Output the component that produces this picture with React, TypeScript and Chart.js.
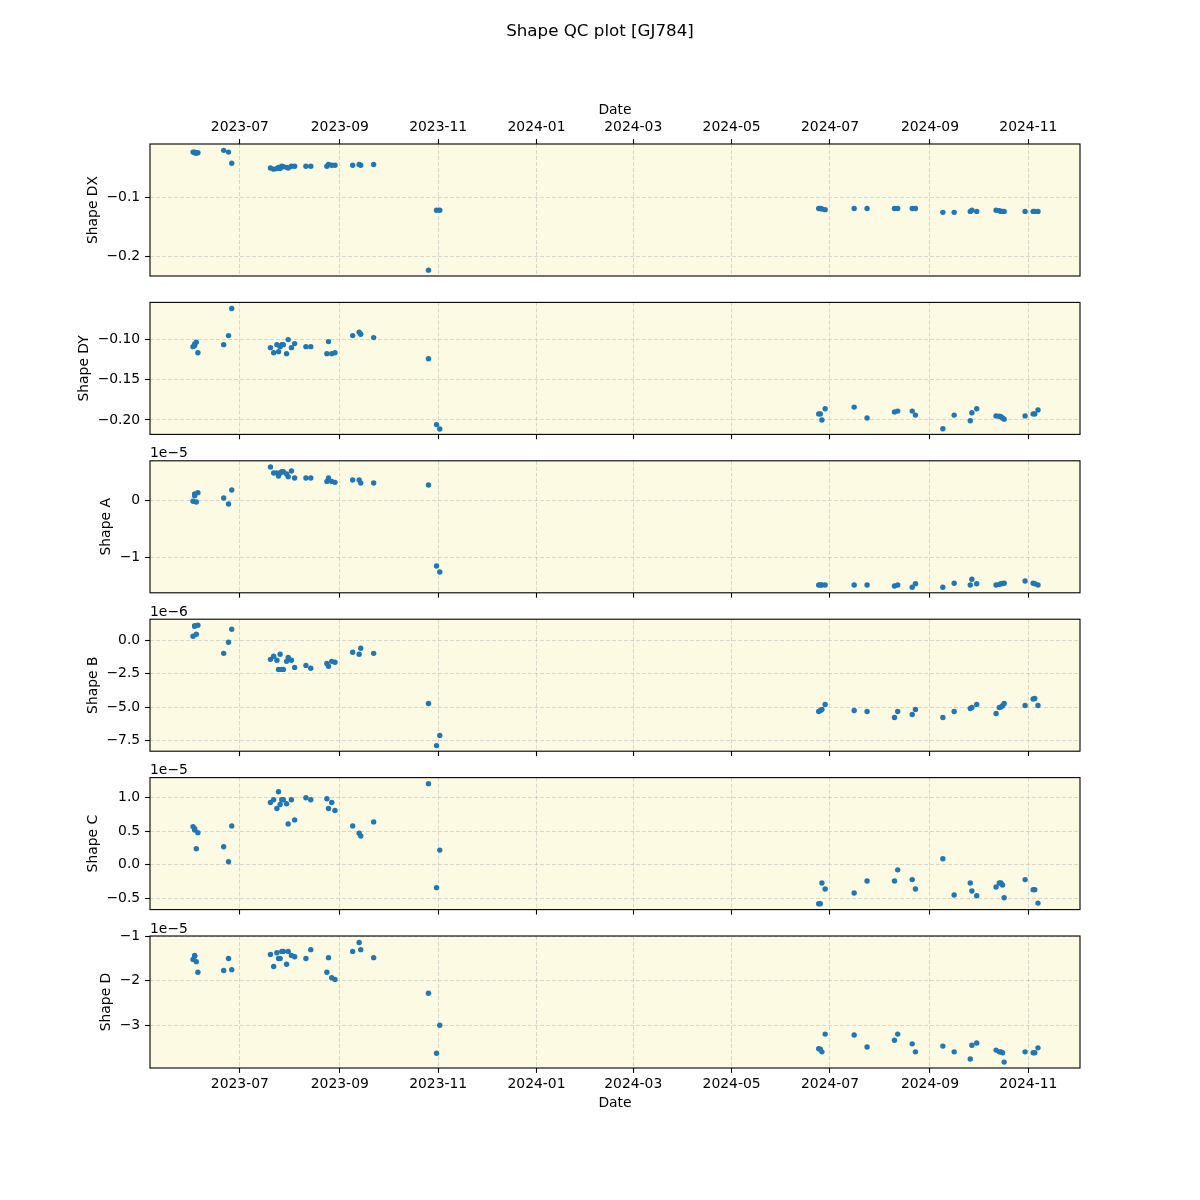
import React, { useEffect, useRef } from 'react';
import { Chart, registerables } from 'chart.js';

Chart.register(...registerables);

// ---------------- data ----------------
const obsDates = [
  '2023-06-02', '2023-06-03', '2023-06-03', '2023-06-04', '2023-06-05',
  '2023-06-21', '2023-06-24', '2023-06-26',
  '2023-07-20', '2023-07-22', '2023-07-24', '2023-07-25', '2023-07-26', '2023-07-27', '2023-07-28', '2023-07-30', '2023-07-31', '2023-08-02', '2023-08-04',
  '2023-08-11', '2023-08-14',
  '2023-08-24', '2023-08-25', '2023-08-27', '2023-08-29',
  '2023-09-09', '2023-09-13', '2023-09-14', '2023-09-22',
  '2023-10-26', '2023-10-31', '2023-11-02',
  '2024-06-24', '2024-06-25', '2024-06-26', '2024-06-28',
  '2024-07-16', '2024-07-24',
  '2024-08-10', '2024-08-12',
  '2024-08-21', '2024-08-23',
  '2024-09-09', '2024-09-16', '2024-09-26', '2024-09-27', '2024-09-30',
  '2024-10-12', '2024-10-14', '2024-10-15', '2024-10-16', '2024-10-17',
  '2024-10-30', '2024-11-04', '2024-11-05', '2024-11-07',
];

const shapeDX = [
  -0.023, -0.023, -0.024, -0.025, -0.024,
  -0.020, -0.023, -0.042,
  -0.050, -0.052, -0.051, -0.049, -0.051, -0.047, -0.048, -0.049, -0.050, -0.047, -0.047,
  -0.047, -0.047,
  -0.047, -0.044, -0.0455, -0.0455,
  -0.0455, -0.044, -0.0455, -0.044,
  -0.224, -0.122, -0.122,
  -0.119, -0.119, -0.120, -0.121,
  -0.119, -0.119,
  -0.119, -0.119,
  -0.119, -0.119,
  -0.1256, -0.1256, -0.124, -0.122, -0.124,
  -0.122, -0.123, -0.124, -0.124, -0.124,
  -0.124, -0.124, -0.124, -0.124,
];

const shapeDY = [
  -0.1088, -0.1075, -0.1054, -0.1033, -0.1163,
  -0.1063, -0.095, -0.0613,
  -0.110, -0.1163, -0.1063, -0.115, -0.1088, -0.1063, -0.1063, -0.1175, -0.100, -0.110, -0.105,
  -0.1088, -0.1088,
  -0.1175, -0.1025, -0.1175, -0.1163,
  -0.095, -0.0908, -0.0933, -0.0975,
  -0.1238, -0.2058, -0.2113,
  -0.1925, -0.1925, -0.200, -0.186,
  -0.184, -0.1975,
  -0.190, -0.189,
  -0.189, -0.194,
  -0.211, -0.194, -0.201, -0.191, -0.186,
  -0.195, -0.1955, -0.196, -0.1975, -0.199,
  -0.195, -0.1925, -0.1925, -0.1875,
];

// Shape A in units of 1e-5
const shapeA = [
  -0.023, 0.076, 0.105, -0.035, 0.129,
  0.035, -0.07, 0.175,
  0.579, 0.474, 0.474, 0.421, 0.474, 0.497, 0.497, 0.456, 0.409, 0.509, 0.386,
  0.386, 0.386,
  0.327, 0.386, 0.327, 0.31,
  0.351, 0.351, 0.298, 0.298,
  0.263, -1.158, -1.263,
  -1.49, -1.49, -1.49, -1.49,
  -1.49, -1.49,
  -1.51, -1.49,
  -1.53, -1.47,
  -1.53, -1.46, -1.49, -1.39, -1.47,
  -1.49, -1.48, -1.47, -1.465, -1.46,
  -1.42, -1.46, -1.47, -1.49,
];

// Shape B in units of 1e-6
const shapeB = [
  0.30, 1.05, 1.08, 0.45, 1.12,
  -0.98, -0.15, 0.82,
  -1.43, -1.2, -1.5, -2.18, -1.05, -2.18, -2.18, -1.58, -1.28, -1.5, -2.03,
  -1.88, -2.1,
  -1.73, -1.95, -1.58, -1.65,
  -0.9, -1.05, -0.6, -0.98,
  -4.73, -7.88, -7.13,
  -5.33, -5.25, -5.18, -4.8,
  -5.25, -5.33,
  -5.78, -5.33,
  -5.55, -5.18,
  -5.78, -5.33, -5.1, -5.03, -4.8,
  -5.48, -5.03, -5.0, -4.9, -4.73,
  -4.88, -4.4, -4.35, -4.88,
];

// Shape C in units of 1e-5
const shapeC = [
  0.57, 0.54, 0.52, 0.24, 0.48,
  0.27, 0.045, 0.58,
  0.93, 0.97, 0.84, 1.09, 0.90, 0.97, 0.97, 0.91, 0.61, 0.97, 0.67,
  1.0, 0.97,
  0.985, 0.84, 0.93, 0.81,
  0.58, 0.47, 0.43, 0.64,
  1.21, -0.34, 0.22,
  -0.58, -0.58, -0.27, -0.36,
  -0.42, -0.24,
  -0.24, -0.075,
  -0.22, -0.36,
  0.09, -0.45, -0.27, -0.39, -0.46,
  -0.33, -0.27, -0.27, -0.30, -0.49,
  -0.22, -0.37, -0.37, -0.57,
];

// Shape D in units of 1e-5
const shapeD = [
  -1.52, -1.43, -1.45, -1.57, -1.81,
  -1.77, -1.50, -1.75,
  -1.41, -1.68, -1.37, -1.50, -1.50, -1.34, -1.34, -1.63, -1.34, -1.43, -1.46,
  -1.50, -1.30,
  -1.81, -1.48, -1.93, -1.97,
  -1.34, -1.14, -1.30, -1.48,
  -2.28, -3.63, -3.0,
  -3.53, -3.54, -3.6, -3.2,
  -3.22, -3.49,
  -3.34, -3.2,
  -3.42, -3.6,
  -3.47, -3.6, -3.76, -3.45, -3.4,
  -3.56, -3.6, -3.6, -3.62, -3.83,
  -3.6, -3.62, -3.62, -3.51,
];

const xTickLabels = ['2023-07', '2023-09', '2023-11', '2024-01', '2024-03', '2024-05', '2024-07', '2024-09', '2024-11'];
const dxTicks = [-0.2, -0.1];
const dyTicks = [-0.2, -0.15, -0.1];
const aTicks = [-1, 0];
const bTicks = [-7.5, -5, -2.5, 0];
const cTicks = [-0.5, 0, 0.5, 1.0];
const dTicks = [-3, -2, -1];

const FIG_TITLE = 'Shape QC plot [GJ784]';

// ---------------- style / layout ----------------
const FONT_FAMILY = '"DejaVu Sans", "Liberation Sans", sans-serif';
const TICK_SIZE = 13.9;
const TITLE_SIZE = 16.7;
const BG_COLOR = '#fcfae2';
const GRID_COLOR = 'rgba(176,176,176,0.6)';
const POINT_COLOR = '#1f77b4';

const DAY_MS = 86400000;
const X_REF = Date.UTC(2023, 6, 1);
const X_MIN = X_REF - 55.7 * DAY_MS;
const X_MAX = X_REF + 521.05 * DAY_MS;

const FIG_W = 1200;
const PLOT_LEFT = 150;
const PLOT_RIGHT = 1080;
const FIRST_TOP = 144;
const PITCH = 158.4;
const PLOT_H = 132;
const TICK_LEN = 4.9;
const TICK_PAD = 4.9;

const panels = [
  { label: 'Shape DX', values: shapeDX, ticks: dxTicks, decimals: 1, min: -0.234, max: -0.0092, offset: '' },
  { label: 'Shape DY', values: shapeDY, ticks: dyTicks, decimals: 2, min: -0.218, max: -0.0537, offset: '' },
  { label: 'Shape A', values: shapeA, ticks: aTicks, decimals: 0, min: -1.628, max: 0.688, offset: '1e\u22125' },
  { label: 'Shape B', values: shapeB, ticks: bTicks, decimals: 1, min: -8.3, max: 1.575, offset: '1e\u22126' },
  { label: 'Shape C', values: shapeC, ticks: cTicks, decimals: 1, min: -0.667, max: 1.3, offset: '1e\u22125' },
  { label: 'Shape D', values: shapeD, ticks: dTicks, decimals: 0, min: -3.963, max: -0.993, offset: '1e\u22125' },
];

function fmtTick(v: number, decimals: number) {
  const s = Math.abs(v).toFixed(decimals);
  const neg = v < 0 && parseFloat(s) !== 0;
  return (neg ? '\u2212' : '') + s;
}

function monthTick(label: string) {
  const [y, m] = label.split('-').map(Number);
  return Date.UTC(y, m - 1, 1);
}

const decorPlugin = {
  id: 'panelDecor',
  beforeDraw(chart: any) {
    const { ctx, chartArea: a } = chart;
    ctx.save();
    ctx.fillStyle = BG_COLOR;
    ctx.fillRect(a.left, a.top, a.right - a.left, a.bottom - a.top);
    ctx.restore();
  },
  afterDraw(chart: any, _args: any, opts: any) {
    const { ctx, chartArea: a } = chart;
    ctx.save();
    ctx.strokeStyle = '#000';
    ctx.lineWidth = 1.1;
    ctx.strokeRect(a.left, a.top, a.right - a.left, a.bottom - a.top);
    ctx.fillStyle = '#000';
    ctx.font = `${TICK_SIZE}px ${FONT_FAMILY}`;
    const yScale = chart.scales.y;
    let maxW = 0;
    yScale.ticks.forEach((t: any) => {
      maxW = Math.max(maxW, ctx.measureText(String(t.label)).width);
    });
    const xc = a.left - TICK_LEN - TICK_PAD - maxW - 5.56 - 8;
    const yc = (a.top + a.bottom) / 2;
    ctx.save();
    ctx.translate(xc, yc);
    ctx.rotate(-Math.PI / 2);
    ctx.textAlign = 'center';
    ctx.textBaseline = 'middle';
    ctx.fillText(opts.yTitle, 0, 0);
    ctx.restore();
    if (opts.offsetText) {
      ctx.textAlign = 'left';
      ctx.textBaseline = 'alphabetic';
      ctx.fillText(opts.offsetText, a.left, a.top - 3.5);
    }
    if (opts.figTitle) {
      ctx.font = `${TITLE_SIZE}px ${FONT_FAMILY}`;
      ctx.textAlign = 'center';
      ctx.textBaseline = 'middle';
      ctx.fillText(opts.figTitle, chart.width / 2, 32);
    }
    ctx.restore();
  },
};

function PanelChart({ index }: { index: number }) {
  const ref = useRef<HTMLCanvasElement | null>(null);
  const p = panels[index];
  const isTop = index === 0;
  const isBottom = index === panels.length - 1;
  const plotTop = FIRST_TOP + PITCH * index;
  const plotBottom = plotTop + PLOT_H;
  const canvasTop = isTop ? 0 : Math.floor(plotTop) - 50;
  const canvasH = Math.ceil(plotBottom) + 50 - canvasTop;
  const xAxisH = isTop || isBottom ? 45 : 10;
  const padTop = isTop ? plotTop - xAxisH : plotTop - canvasTop;
  const padBottom = isTop
    ? canvasH - (plotBottom - canvasTop)
    : canvasH - (plotBottom - canvasTop) - xAxisH;
  const labelLine = TICK_SIZE * 1.2;

  useEffect(() => {
    const canvas = ref.current;
    if (!canvas) return;
    const points = obsDates.map((d, i) => ({ x: Date.parse(d), y: p.values[i] }));
    const xTickValues = xTickLabels.map(monthTick);
    const tickFont = { family: FONT_FAMILY, size: TICK_SIZE };
    const gridOpts = {
      color: GRID_COLOR,
      lineWidth: 0.8,
      drawTicks: true,
      tickLength: TICK_LEN,
      tickColor: '#000',
      tickWidth: 1.1,
    };
    const chart = new Chart(canvas, {
      type: 'scatter',
      data: {
        datasets: [
          {
            data: points,
            backgroundColor: POINT_COLOR,
            borderColor: POINT_COLOR,
            borderWidth: 0,
            pointRadius: 2.7,
            pointHoverRadius: 2.7,
          },
        ],
      },
      options: {
        animation: false,
        responsive: false,
        maintainAspectRatio: false,
        devicePixelRatio: 1,
        events: [],
        layout: { padding: { left: 0, right: FIG_W - PLOT_RIGHT, top: padTop, bottom: padBottom } },
        plugins: {
          legend: { display: false },
          tooltip: { enabled: false },
          title: { display: false },
          panelDecor: { yTitle: p.label, offsetText: p.offset, figTitle: isTop ? FIG_TITLE : '' },
        } as any,
        scales: {
          x: {
            type: 'linear',
            position: isTop ? 'top' : 'bottom',
            min: X_MIN,
            max: X_MAX,
            afterBuildTicks: (s: any) => {
              s.ticks = xTickValues.map((v) => ({ value: v }));
            },
            afterFit: (s: any) => {
              s.height = xAxisH;
              s.paddingLeft = 0;
              s.paddingRight = 0;
            },
            ticks: {
              autoSkip: false,
              maxRotation: 0,
              minRotation: 0,
              padding: 3.5,
              color: '#000',
              font: tickFont,
              callback: (_v: any, i: number) => (isTop || isBottom ? xTickLabels[i] : ''),
            },
            grid: gridOpts,
            border: { display: false, dash: [4, 2] },
            title: {
              display: isTop || isBottom,
              text: 'Date',
              color: '#000',
              font: tickFont,
              padding: isTop
                ? { top: 110 - (plotTop - xAxisH) - labelLine / 2, bottom: 0 }
                : { top: 0, bottom: plotBottom + xAxisH - 1103.3 - labelLine / 2 },
            },
          },
          y: {
            type: 'linear',
            min: p.min,
            max: p.max,
            afterBuildTicks: (s: any) => {
              s.ticks = p.ticks.map((v) => ({ value: v }));
            },
            afterFit: (s: any) => {
              s.width = PLOT_LEFT;
              s.paddingTop = 0;
              s.paddingBottom = 0;
            },
            ticks: {
              autoSkip: false,
              padding: TICK_PAD,
              color: '#000',
              font: tickFont,
              callback: (v: any) => fmtTick(Number(v), p.decimals),
            },
            grid: gridOpts,
            border: { display: false, dash: [4, 2] },
          },
        },
      } as any,
      plugins: [decorPlugin as any],
    });
    return () => chart.destroy();
  }, []);

  return (
    <canvas
      ref={ref}
      width={FIG_W}
      height={canvasH}
      style={{ position: 'absolute', left: 0, top: canvasTop, width: FIG_W, height: canvasH, display: 'block' }}
    />
  );
}

export default function App() {
  return (
    <div
      style={{
        position: 'absolute',
        left: 0,
        top: 0,
        width: 1200,
        height: 1200,
        background: '#fff',
        overflow: 'hidden',
      }}
    >
      {panels.map((_, i) => (
        <PanelChart key={i} index={i} />
      ))}
    </div>
  );
}
